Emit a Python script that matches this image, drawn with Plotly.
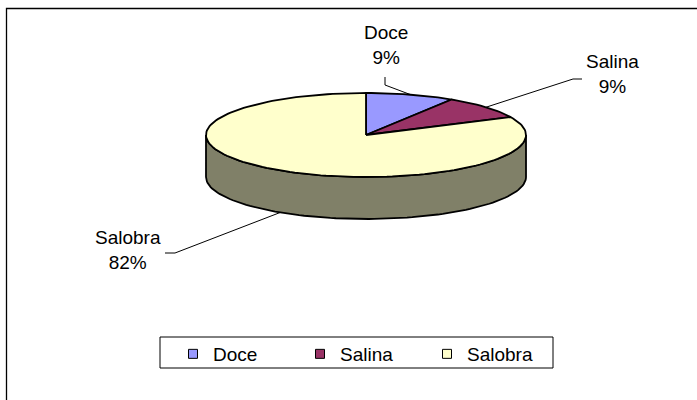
import math
import plotly.graph_objects as go

# ---- data ----
categories = ["Doce", "Salina", "Salobra"]
values = [9, 9, 82]
pct_labels = ["9%", "9%", "82%"]

# ---- styles / layout constants ----
top_colors = ["#9999FF", "#993366", "#FFFFCC"]
side_colors = ["#4D4D80", "#4D1A33", "#808068"]
W, H = 697, 400
CX, CY, RX, RY, DEPTH = 366, 135, 160, 42, 42
FONT = "Liberation Sans, Arial, sans-serif"
FS = 19
# label text centre and leader elbow (layout positions)
label_pos = [(386, 45), (612, 74), (128, 250)]
elbows = [[(385, 77), (385, 85)], [(582, 79), (573, 79)], [(165, 253), (175, 253)]]
LEGEND_BOX = (160, 337, 553, 368)


def ell(theta, dy=0.0):
    t = math.radians(theta)
    return CX + RX * math.sin(t), CY - RY * math.cos(t) + dy


def arc(a, b, dy=0.0, n=None):
    n = n or max(2, int(abs(b - a) / 2) + 2)
    return [ell(a + (b - a) * i / (n - 1), dy) for i in range(n)]


total = float(sum(values))
angles = []
acc = 0.0
for v in values:
    s = acc / total * 360
    acc += v
    e = acc / total * 360
    angles.append((s, e))

fig = go.Figure()

# side faces (front half only)
for (s, e), col in zip(angles, side_colors):
    a, b = max(s, 90), min(e, 270)
    if a < b:
        pts = arc(a, b) + arc(b, a, DEPTH)
        pts.append(pts[0])
        fig.add_trace(go.Scatter(
            x=[p[0] for p in pts], y=[p[1] for p in pts], mode="lines",
            fill="toself", fillcolor=col, line=dict(color="black", width=1.8),
            hoverinfo="skip", showlegend=False))

# top faces
for (s, e), col in zip(angles, top_colors):
    pts = [(CX, CY)] + arc(s, e) + [(CX, CY)]
    fig.add_trace(go.Scatter(
        x=[p[0] for p in pts], y=[p[1] for p in pts], mode="lines",
        fill="toself", fillcolor=col, line=dict(color="black", width=1.8),
        hoverinfo="skip", showlegend=False))

# leader lines and labels
for i, ((s, e), cat, pl) in enumerate(zip(angles, categories, pct_labels)):
    mid = (s + e) / 2
    dy = DEPTH if 90 < mid < 270 else 0
    ex, ey = ell(mid, dy)
    pts = elbows[i] + [(ex, ey)]
    fig.add_trace(go.Scatter(
        x=[p[0] for p in pts], y=[p[1] for p in pts], mode="lines",
        line=dict(color="black", width=1), hoverinfo="skip", showlegend=False))
    lx, ly = label_pos[i]
    fig.add_annotation(x=lx, y=ly, xref="x", yref="y", text=f"{cat}<br>{pl}",
                       showarrow=False, xanchor="center", yanchor="middle",
                       font=dict(family=FONT, size=FS, color="black"))

# legend entries
for cat, col in zip(categories, top_colors):
    fig.add_trace(go.Scatter(
        x=[None], y=[None], mode="markers", name=cat,
        marker=dict(symbol="square", size=9, color=col,
                    line=dict(color="black", width=1))))

# legend box
lx0, ly0, lx1, ly1 = LEGEND_BOX
fig.add_shape(type="rect", xref="x", yref="y", x0=lx0, y0=ly0, x1=lx1, y1=ly1,
              line=dict(color="black", width=1), fillcolor="white", layer="below")

# chart border
fig.add_shape(type="rect", xref="x", yref="y", x0=6.5, y0=8.5, x1=W + 20, y1=H + 20,
              line=dict(color="black", width=1.3), fillcolor="rgba(0,0,0,0)")

fig.update_layout(
    width=W, height=H, margin=dict(l=0, r=0, t=0, b=0),
    paper_bgcolor="white", plot_bgcolor="white",
    xaxis=dict(range=[0, W], visible=False, fixedrange=True),
    yaxis=dict(range=[H, 0], visible=False, fixedrange=True),
    showlegend=True,
    legend=dict(orientation="h", x=173 / W, xanchor="left", y=1 - 335 / H, yanchor="top",
                borderwidth=0, bgcolor="rgba(0,0,0,0)",
                font=dict(family=FONT, size=FS, color="black"),
                entrywidth=82, entrywidthmode="pixels", itemclick=False),
)

fig.write_html("out.html", config={"displayModeBar": False},
               post_script="document.body.style.margin='0';document.body.style.overflow='hidden';")
